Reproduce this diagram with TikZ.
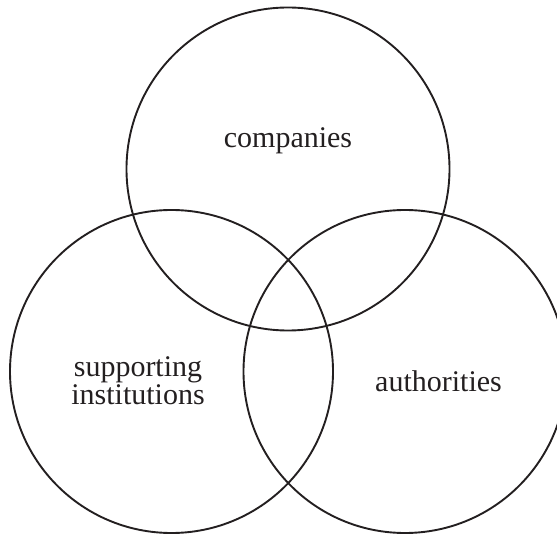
\documentclass[tikz,border=0pt]{standalone}
\usepackage{fontspec}
\setmainfont{Liberation Serif}
\definecolor{ink}{RGB}{35,31,32}
\begin{document}
\begin{tikzpicture}[x=1pt,y=-1pt,
  setcircle/.style={draw=ink,line width=1.9pt},
  label/.style={text=ink,font=\fontsize{30}{28.5}\selectfont,align=center,inner sep=0pt}]
\useasboundingbox (0,0) rectangle (557,534);
\clip (0,0) rectangle (557,534);
\draw[setcircle] (288,169) circle[radius=161.5];
\draw[setcircle] (171.5,371.5) circle[radius=161.5];
\draw[setcircle] (405,371.5) circle[radius=161.5];
\node[label,anchor=base] (companies) at (288,148) {companies};
\node[label,anchor=base] (authorities) at (438.5,391.5) {authorities};
\node[label,anchor=base] (supporting) at (138,405) {supporting\\institutions};
\end{tikzpicture}
\end{document}
